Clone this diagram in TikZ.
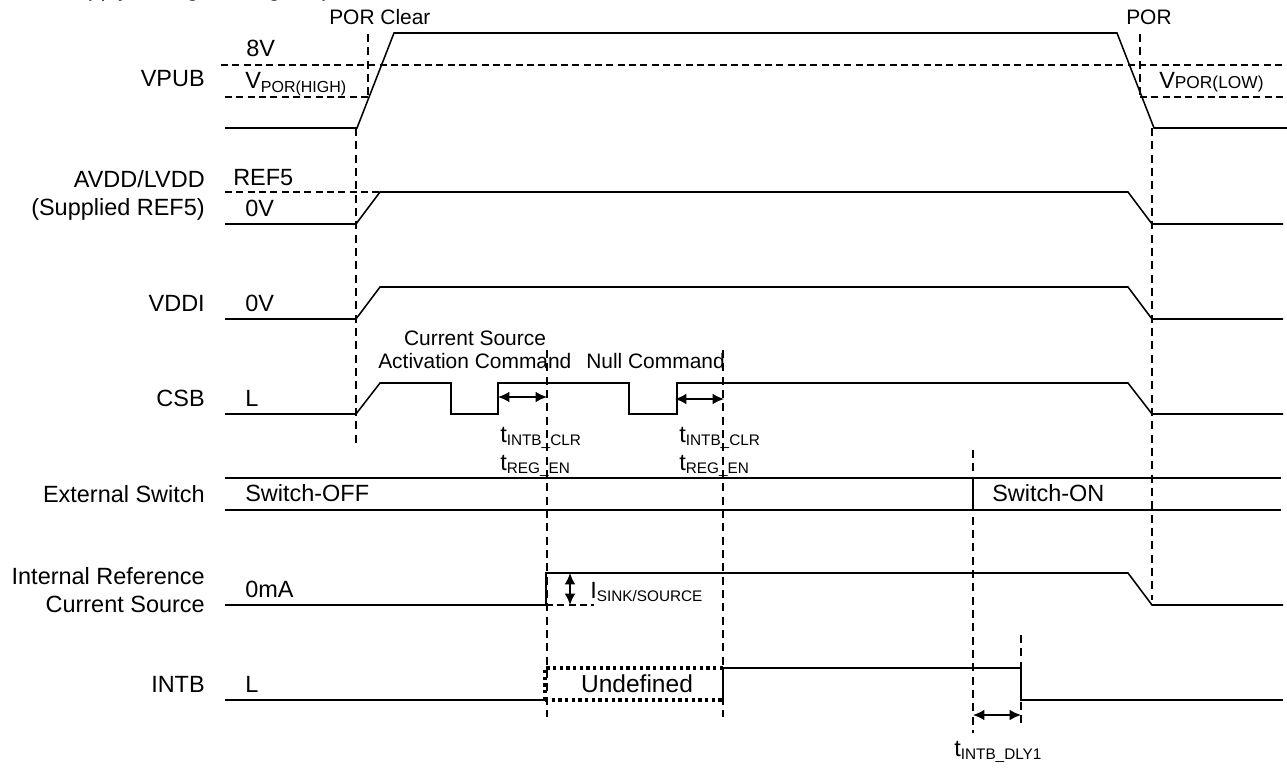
\documentclass[tikz,border=0pt]{standalone}
\usepackage{fontspec}
\setmainfont{Liberation Sans}
\usetikzlibrary{arrows.meta}
\tikzset{
  x=0.75pt,y=-0.75pt,
  wave/.style={line width=1.15pt,black,line join=miter},
  guide/.style={line width=1.05pt,black,dash pattern=on 6pt off 4pt},
  lvl/.style={line width=0.95pt,black,dash pattern=on 5.2pt off 3.3pt},
  undef/.style={line width=2.4pt,black,dash pattern=on 2.6pt off 2.4pt},
  dim/.style={line width=1.15pt,black,{Latex[length=8.5pt,width=8pt]}-{Latex[length=8.5pt,width=8pt]}},
  lab/.style={inner sep=0pt,font=\fontsize{17.6pt}{20pt}\selectfont},
  tight/.style={inner sep=0pt,font=\fontsize{15.7pt}{19pt}\selectfont},
  sig/.style={lab,anchor=base east},
  txt/.style={lab,anchor=base west},
  ttxt/.style={tight,anchor=base west},
}
\newcommand{\sbs}[1]{\raisebox{-2.6pt}{\fontsize{11.5pt}{14pt}\selectfont #1}}
\begin{document}
\begin{tikzpicture}
\useasboundingbox (0,0) rectangle (1287,767);
\fill[white] (0,0) rectangle (1287,767);
% title, cut by the top edge as in the reference
\begin{scope}
\clip (0,0) rectangle (1287,767);
\node[txt,font=\fontsize{17pt}{20pt}\selectfont] (title) at (60,-3.2) {Supply Voltage Rising Step};
\end{scope}
% coordinates of guides
\coordinate (g1top) at (368,34);
\coordinate (g1bot) at (368,97);
\coordinate (g2top) at (356,128);
\coordinate (g2bot) at (356,443);
\coordinate (g3top) at (546.9,350);
\coordinate (g3bot) at (546.9,717);
\coordinate (g4top) at (723,350);
\coordinate (g4bot) at (723,717);
\coordinate (g5top) at (973,450);
\coordinate (g5bot) at (973,733);
\coordinate (g6top) at (1021,635);
\coordinate (g6bot) at (1021,727);
\coordinate (g7top) at (1140,34);
\coordinate (g7bot) at (1140,97);
\coordinate (g8top) at (1152,128);
\coordinate (g8bot) at (1152,600);
\draw[guide] (g1top) -- (g1bot);
\draw[guide] (g2top) -- (g2bot);
\draw[guide] (g3top) -- (g3bot);
\draw[guide] (g4top) -- (g4bot);
\draw[guide] (g5top) -- (g5bot);
\draw[guide] (g6top) -- (g6bot);
\draw[guide] (g7top) -- (g7bot);
\draw[guide] (g8top) -- (g8bot);
% level lines
\coordinate (l8a) at (221,65); \coordinate (l8b) at (1282,65);
\coordinate (lha) at (225,97); \coordinate (lhb) at (369,97);
\coordinate (lla) at (1140,97); \coordinate (llb) at (1285,97);
\coordinate (lra) at (225,192); \coordinate (lrb) at (380,192);
\draw[lvl] (l8a) -- (l8b);
\draw[lvl] (lha) -- (lhb);
\draw[lvl] (lla) -- (llb);
\draw[lvl] (lra) -- (lrb);
% VPUB
\draw[wave] (225,128) -- (357,128) -- (394,33) -- (1117,33) -- (1154,128) -- (1287,128);
% AVDD
\draw[wave] (225,224) -- (356,224) -- (380,192) -- (1128,192) -- (1152,224) -- (1283,224);
% VDDI
\draw[wave] (225,319) -- (356,319) -- (380,287) -- (1128,287) -- (1152,319) -- (1283,319);
% CSB
\draw[wave] (225,414) -- (356,414) -- (380,383) -- (451,383) -- (451,414) -- (498,414) -- (498,383) -- (629,383) -- (629,414) -- (677,414) -- (677,383) -- (1128,383) -- (1152,414) -- (1283,414);
% External switch
\draw[wave] (225,478) -- (1281,478);
\draw[wave] (225,510) -- (1281,510);
\draw[wave] (973,478) -- (973,510);
% Internal Ref
\draw[wave] (225,605) -- (546,605) -- (546,573) -- (1128,573) -- (1152,605) -- (1283,605);
\draw[lvl] (546,605) -- (594,605);
% INTB
\draw[undef] (545,700) -- (545,668) -- (723,668);
\draw[undef] (545,700) -- (723,700);
\draw[wave] (225,700) -- (545,700);
\draw[wave] (723,700) -- (723,668) -- (1021,668) -- (1021,700) -- (1283,700);
% dimension arrows
\coordinate (d1a) at (498,397); \coordinate (d1b) at (547,397);
\coordinate (d2a) at (675,399); \coordinate (d2b) at (724,399);
\coordinate (d3a) at (973,715); \coordinate (d3b) at (1021,715);
\coordinate (d4a) at (570,573); \coordinate (d4b) at (570,605);
\draw[dim] (d1a) -- (d1b);
\draw[dim] (d2a) -- (d2b);
\draw[dim] (d3a) -- (d3b);
\draw[dim] (d4a) -- (d4b);
% signal names
\node[sig] (vpub) at (205,86) {VPUB};
\node[sig] (avdd) at (205,187) {AVDD/LVDD};
\node[sig] (sup) at (205,215) {(Supplied REF5)};
\node[sig] (vddi) at (205,311) {VDDI};
\node[sig] (csb) at (205,406) {CSB};
\node[sig] (ext) at (205,502) {External Switch};
\node[sig] (ir) at (205,584) {Internal Reference};
\node[sig] (cs) at (205,612) {Current Source};
\node[sig] (intb) at (205,692.5) {INTB};
% values
\node[txt] (v8) at (246,57) {8V};
\node[txt] (vph) at (245,89) {V{\fontsize{12pt}{14pt}\selectfont\raisebox{-2.6pt}{POR(HIGH)}}};
\node[txt] (ref5) at (233,185) {REF5};
\node[txt] (v0a) at (245,216) {0V};
\node[txt] (v0b) at (245,311) {0V};
\node[txt] (lc) at (245,406) {L};
\node[txt] (off) at (245,501) {Switch-OFF};
\node[txt] (on) at (992,501) {Switch-ON};
\node[txt] (ma) at (245,597) {0mA};
\node[txt] (li) at (245,692.5) {L};
\node[ttxt] (porc) at (329,25) {POR Clear};
\node[ttxt] (por) at (1126,25) {POR};
\node[txt] (vpl) at (1159,89) {V{\fontsize{13pt}{14pt}\selectfont POR(LOW)}};
\node[tight,anchor=base] (cs1) at (475,345) {Current Source};
\node[ttxt] (cs2) at (378,368) {Activation Command};
\node[ttxt] (nc) at (586,368) {Null Command};
\node[txt] (t1) at (500,442) {t\sbs{INTB\_CLR}};
\node[txt] (t2) at (500,470) {t\sbs{REG\_EN}};
\node[txt] (t3) at (679,442) {t\sbs{INTB\_CLR}};
\node[txt] (t4) at (679,470) {t\sbs{REG\_EN}};
\node[txt] (t5) at (954,756) {t\sbs{INTB\_DLY1}};
\node[txt] (isk) at (590,598) {I\sbs{SINK/SOURCE}};
\node[lab,anchor=base,font=\fontsize{18.4pt}{20pt}\selectfont] (und) at (637,692) {Undefined};
\end{tikzpicture}
\end{document}
